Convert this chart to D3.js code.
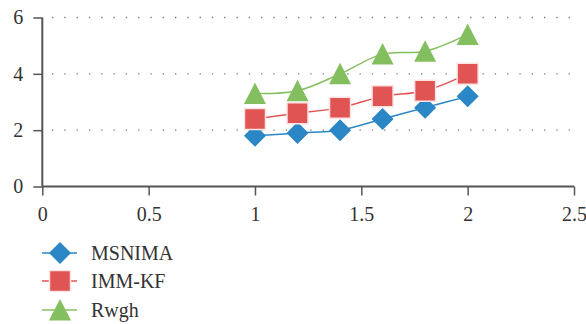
<!DOCTYPE html>
<html>
<head>
<meta charset="utf-8">
<script src="https://cdn.jsdelivr.net/npm/d3@7/dist/d3.min.js"></script>
<style>
  html, body { margin: 0; padding: 0; background: #fff; }
  svg { display: block; }
</style>
</head>
<body>
<svg id="chart" width="586" height="324"></svg>
<script>
// Data
const xValues = [1, 1.2, 1.4, 1.6, 1.8, 2];
const msnima = [1.8, 1.9, 2.0, 2.4, 2.8, 3.2];
const immkf  = [2.4, 2.6, 2.8, 3.2, 3.4, 4.0];
const rwgh   = [3.3, 3.4, 4.0, 4.7, 4.8, 5.4];
const seriesNames = ["MSNIMA", "IMM-KF", "Rwgh"];
const xTicks = [0, 0.5, 1, 1.5, 2, 2.5];
const yTicks = [0, 2, 4, 6];

const colors = ["#2a86c4", "#e05554", "#84bf5f"];
const shapes = ["diamond", "square", "triangle"];
const seriesData = [msnima, immkf, rwgh];
const serif = "Liberation Serif";
const fontSize = 20;

const svg = d3.select("#chart");
const x = d3.scaleLinear().domain([0, 2.5]).range([42.3, 574]);
const y = d3.scaleLinear().domain([0, 6]).range([186.5, 17.5]);

// Dotted horizontal gridlines
svg.append("g").selectAll("line")
  .data(yTicks.filter(d => d > 0))
  .join("line")
  .attr("x1", 52).attr("x2", 574)
  .attr("y1", d => y(d)).attr("y2", d => y(d))
  .attr("stroke", "#777").attr("stroke-width", 1.3)
  .attr("stroke-dasharray", "1.3 11")
  .attr("stroke-linecap", "butt");

// Axes
const axisColor = "#555";
const xAxis = svg.append("g")
  .attr("transform", `translate(0,${y(0)})`)
  .call(d3.axisBottom(x).tickValues(xTicks).tickSize(9).tickPadding(11).tickFormat(d => String(d)));
const yAxis = svg.append("g")
  .attr("transform", `translate(${x(0)},0)`)
  .call(d3.axisLeft(y).tickValues(yTicks).tickSize(9).tickPadding(10).tickFormat(d => String(d)));
[xAxis, yAxis].forEach(g => {
  g.attr("font-family", serif).attr("font-size", fontSize);
  g.select(".domain").attr("stroke", axisColor).attr("stroke-width", 2);
  g.selectAll(".tick line").attr("stroke", axisColor).attr("stroke-width", 1.5);
  g.selectAll(".tick text").attr("fill", "#333");
});
xAxis.select(".domain").attr("d", `M${x(0)},0H${x(2.5)}`);
yAxis.select(".domain").attr("d", `M0,${y(6)}V${y(0)}`);

// Marker symbols, centred on their bounding boxes
function symbolPath(shape) {
  if (shape === "diamond") return "M0,-11L11,0L0,11L-11,0Z";
  if (shape === "square") return "M-10.5,-10.5H10.5V10.5H-10.5Z";
  return "M0,-11L11,10.5H-11Z";
}

const line = d3.line()
  .x(d => x(d[0])).y(d => y(d[1]))
  .curve(d3.curveCatmullRom.alpha(0.5));

seriesData.forEach((vals, i) => {
  const pts = xValues.map((xv, j) => [xv, vals[j]]);
  svg.append("path")
    .datum(pts)
    .attr("d", line)
    .attr("fill", "none")
    .attr("stroke", colors[i])
    .attr("stroke-width", 1.5);
});

seriesData.forEach((vals, i) => {
  const pts = xValues.map((xv, j) => [xv, vals[j]]);
  svg.append("g").selectAll("path")
    .data(pts)
    .join("path")
    .attr("transform", d => `translate(${x(d[0])},${y(d[1])})`)
    .attr("d", symbolPath(shapes[i]))
    .attr("fill", colors[i])
    .attr("stroke", "#fbe3e3")
    .attr("stroke-width", shapes[i] === "square" ? 1.5 : 0);
});

// Legend
const legend = svg.append("g").attr("font-family", serif).attr("font-size", fontSize);
const legendY = [253, 281, 310];
seriesNames.forEach((name, i) => {
  const g = legend.append("g").attr("transform", `translate(0,${legendY[i]})`);
  g.append("line").attr("x1", 42).attr("x2", 77).attr("y1", 0).attr("y2", 0)
    .attr("stroke", colors[i]).attr("stroke-width", 1.5);
  g.append("path").attr("transform", "translate(60,0)")
    .attr("d", symbolPath(shapes[i]))
    .attr("fill", colors[i])
    .attr("stroke", "#fbe3e3")
    .attr("stroke-width", shapes[i] === "square" ? 1.5 : 0);
  g.append("text").attr("x", 91).attr("y", 6.5).attr("fill", "#333").text(name);
});
</script>
</body>
</html>
